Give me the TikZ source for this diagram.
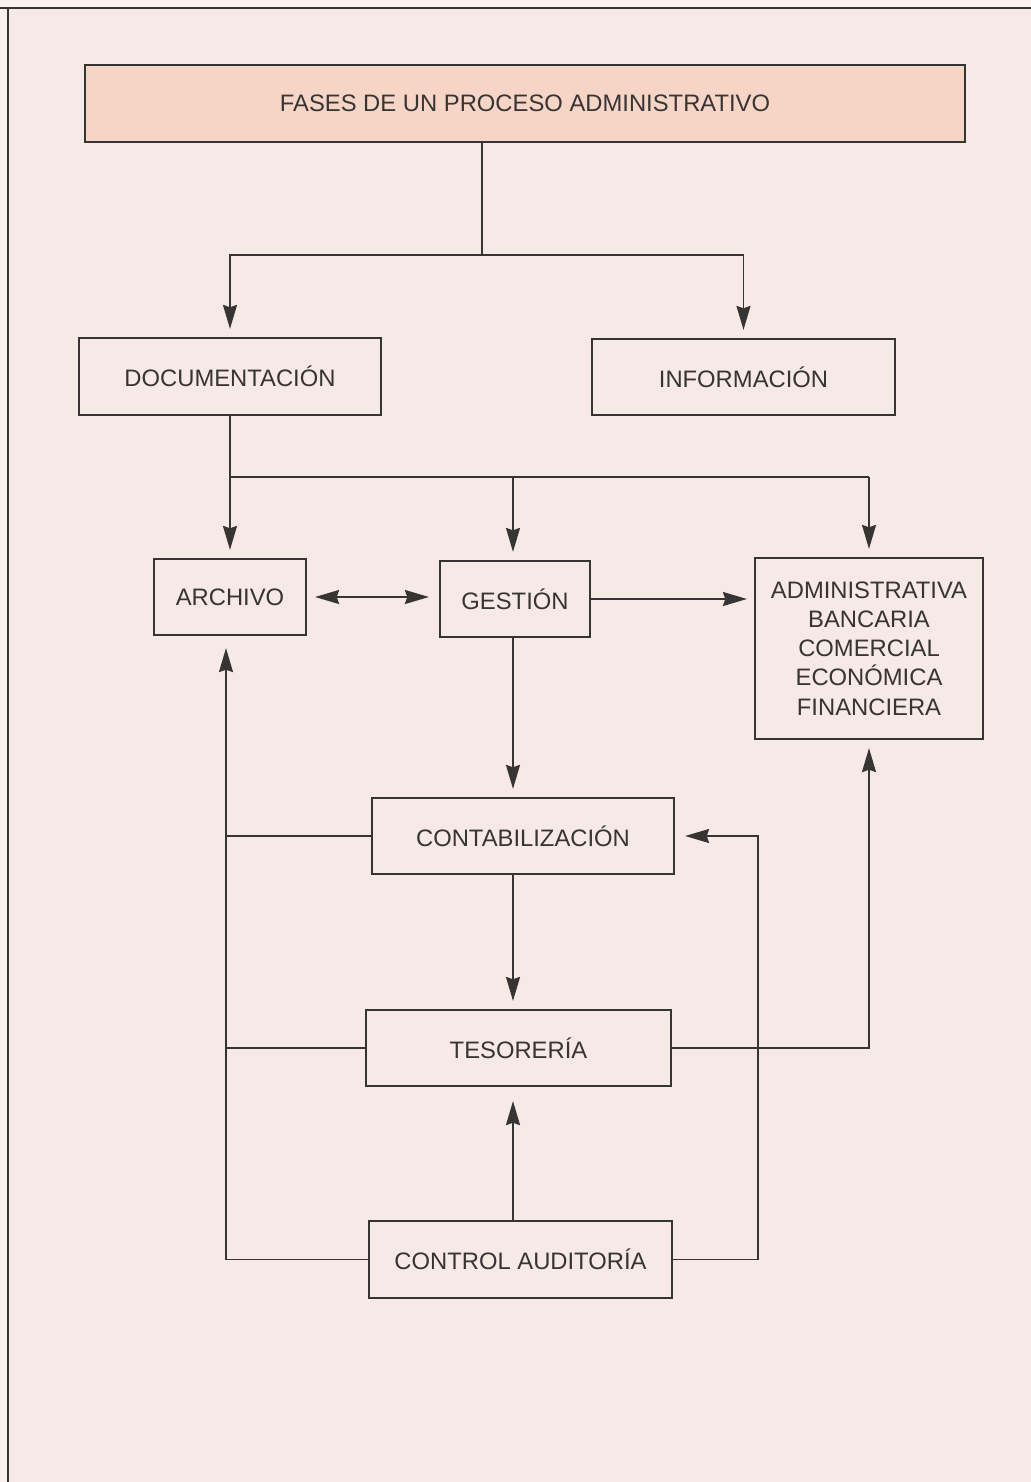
\documentclass[tikz,border=0pt]{standalone}
\usepackage{fontspec}
\setmainfont{Liberation Sans}
\usetikzlibrary{arrows.meta,calc}

\definecolor{paper}{RGB}{247,233,229}
\definecolor{margin}{RGB}{251,242,240}
\definecolor{titlefill}{RGB}{246,213,199}
\definecolor{ink}{RGB}{55,52,52}

\tikzset{
  box/.style={draw=ink, line width=1.1pt, inner sep=0pt, text=ink,
    font=\fontsize{11.9pt}{14.6pt}\selectfont, align=center},
  sz/.style 2 args={minimum width=#1*0.5pt, minimum height=#2*0.5pt},
  link/.style={draw=ink, line width=0.9pt},
  tip/.tip={Stealth[length=12pt,width=7pt,inset=1.2pt]},
  arr/.style={link, -tip, shorten >=4pt},
  biarr/.style={link, tip-tip, shorten <=4pt, shorten >=5pt},
}

\begin{document}
\begin{tikzpicture}[x=0.5pt,y=-0.5pt]
\useasboundingbox (0,0) rectangle (1031,1482);
\fill[margin] (0,0) rectangle (1031,1482);
\fill[paper] (8,8) rectangle (1031,1482);
\draw[ink, line width=1pt] (0,8) -- (1031,8);
\draw[ink, line width=1pt] (8,8) -- (8,1482);

% boxes
\node[box, sz={880}{77}, fill=titlefill] (title) at (525,103.5) {FASES DE UN PROCESO ADMINISTRATIVO};
\node[box, sz={302}{77}] (doc) at (230,376.5) {DOCUMENTACIÓN};
\node[box, sz={303}{76}] (info) at (743.5,377) {INFORMACIÓN};
\node[box, sz={152}{76}] (archivo) at (230,597) {ARCHIVO};
\node[box, sz={150}{76}] (gestion) at (515,599) {GESTIÓN};
\node[box, sz={228}{181}] (admin) at (869,648.5) {ADMINISTRATIVA\\BANCARIA\\COMERCIAL\\ECONÓMICA\\FINANCIERA};
\node[box, sz={302}{76}] (contab) at (523,836) {CONTABILIZACIÓN};
\node[box, sz={305}{76}] (teso) at (518.5,1048) {TESORERÍA};
\node[box, sz={303}{77}] (control) at (520.5,1259.5) {CONTROL AUDITORÍA};

% junction points of the connector network
\coordinate (j1) at (482,255);
\coordinate (j2) at (230,477);
\coordinate (jg) at (513,477);
\coordinate (j3) at (869,477);
\coordinate (vx) at (513,0);
\coordinate (bx) at (226,0);
\coordinate (rc) at (758,836);

% top distribution
\draw[link] (title.south -| j1) -- (j1);
\draw[arr] (j1) -| (doc.north);
\draw[arr] (j1) -| (info.north);

% from documentation to the second row
\draw[arr] (doc.south) -- (archivo.north);
\draw[link] (j2) -- (j3);
\draw[arr] (jg) -- (gestion.north -| jg);
\draw[arr] (j3) -- (admin.north);

% horizontal links on the second row
\draw[biarr] (archivo.east) -- (archivo.east -| gestion.west);
\draw[arr, shorten >=3.5pt] (gestion.east) -- (gestion.east -| admin.west);

% central column
\draw[arr] (gestion.south -| vx) -- (contab.north -| vx);
\draw[arr] (contab.south -| vx) -- (teso.north -| vx);
\draw[arr, shorten >=7pt] (control.north -| vx) -- (teso.south -| vx);

% left return bus
\draw[arr, shorten >=6pt] (control.west) -| (archivo.south -| bx);
\draw[link] (contab.west) -- (contab.west -| bx);
\draw[link] (teso.west) -- (teso.west -| bx);

% right return paths
\draw[arr, shorten >=5pt] (control.east) -| (rc) -- (contab.east);
\draw[arr] (teso.east) -| (admin.south);
\end{tikzpicture}
\end{document}
